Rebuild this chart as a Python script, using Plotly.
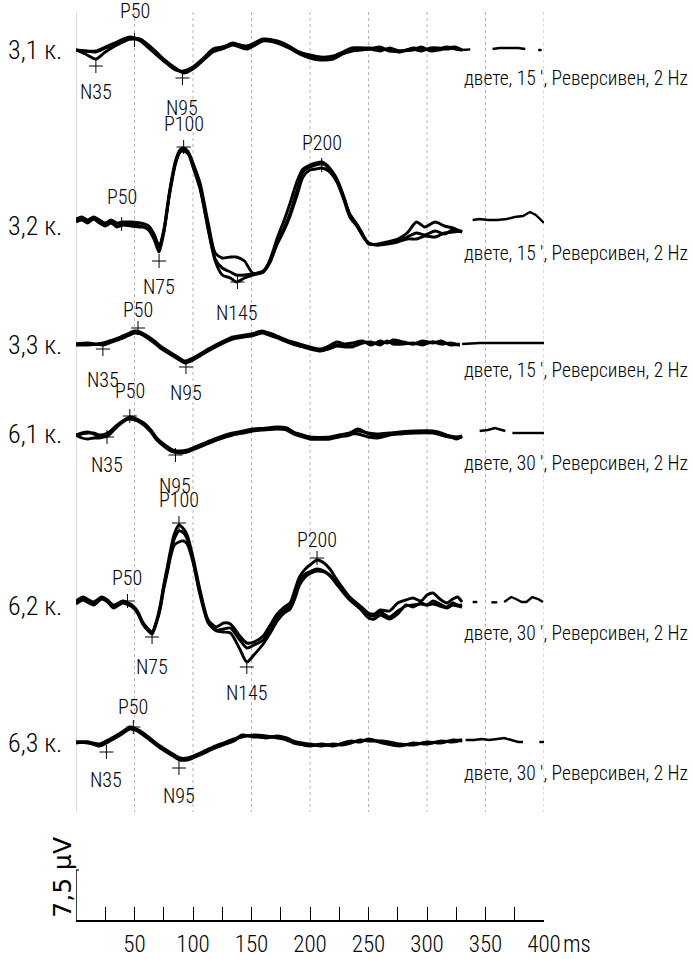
import plotly.graph_objects as go

# Screen scale: the 7,5 µV calibration bar is 50 px tall.
W, H = 693, 959
X0_PX, X400_PX = 76, 544          # pixel span of 0..400 ms
AXIS_PX = 920                     # pixel row of the time axis
Y_BOTTOM = -138.0                 # µV value at the time axis (top of page = 0)
PX_PER_UV = AXIS_PX / -Y_BOTTOM

FONT = "Roboto Condensed, sans-serif"
FONT_WEIGHT = 300

# ---------------- recording 3,1 ----------------
t31 = [0, 8, 17, 25, 35, 46, 55, 65, 75, 85, 92, 100, 110, 117, 125, 134, 146, 160, 172,
       182, 191, 200, 209, 220, 228, 236, 251, 260, 268, 277, 288, 295, 303, 310, 317, 324, 330]
v31 = [
    [0, -0.15, -0.3, 0.3, 1.05, 1.8, 1.5, 0, -1.5, -2.85, -3.3, -2.7, -1.2, 0, 0.3, 1.05, 0.45, 1.5, 1.2,
     0.45, -0.45, -0.9, -1.2, -1.05, -0.45, 0.15, 0.3, 0.15, 0, -0.3, 0.3, 0.15, 0, 0.15, 0.45, 0.15, 0],
    [0, -0.6, -1.35, -0.3, 0.75, 1.65, 1.65, 0.3, -1.35, -2.7, -3.45, -2.85, -1.35, -0.3, 0.15, 0.75, 0.15, 1.35, 1.05,
     0.3, -0.6, -1.2, -1.5, -1.35, -0.6, -0.15, 0.15, 0.45, -0.15, -0.15, 0.0, 0.45, -0.15, 0.0, 0.3, 0.45, 0],
    [0, -0.15, -0.15, 0.45, 1.2, 1.95, 1.35, -0.15, -1.65, -3.0, -3.15, -2.55, -1.05, 0.15, 0.45, 0.9, 0.6, 1.65, 1.35,
     0.6, -0.3, -0.75, -1.05, -0.9, -0.3, 0.3, 0.15, -0.15, 0.3, -0.15, 0.15, -0.15, 0.3, 0.3, 0.15, 0.3, 0],
]
tail31_t = [330, 337, None, 356, 362, 370, 378, 384, None, 395, 398]
tail31_v = [0, 0.1, None, 0.15, 0.3, 0.3, 0.3, 0.15, None, 0, 0]

# ---------------- recording 3,2 ----------------
t32 = [0, 5, 10, 15, 20, 25, 30, 35, 40, 47, 55, 62, 67, 71, 75, 80, 85, 89, 92, 96,
       100, 106, 113, 119, 125, 132, 137, 144, 151, 160, 166, 172, 178, 183, 189, 194, 200, 205, 210, 216,
       223, 229, 234, 240, 245, 250, 258, 266, 275, 283, 291, 298, 307, 315, 322, 330]
v32 = [
    [0.3, 0.75, 0.15, 0.75, 0.3, -0.3, 0.15, -0.45, -0.15, -0.15,
     -0.45, -1.05, -2.55, -4.35, -1.5, 4.5, 9.0, 10.8, 11.1, 10.5,
     8.7, 5.4, -1.05, -5.7, -7.8, -8.25, -8.85, -8.25, -7.8, -7.35,
     -5.85, -3.0, -0.75, 1.5, 4.95, 7.65, 8.4, 8.7, 9.0, 8.25,
     6.45, 3.75, 1.2, -0.3, -1.8, -3.0, -3.3, -3.15, -2.85, -2.4,
     -2.4, -1.95, -2.1, -1.5, -1.35, -1.2],
    [0.6, 0.9, 0.45, 0.9, 0.45, 0.0, 0.45, 0.0, 0.15, 0.15,
     0.0, -0.45, -1.8, -3.6, -1.05, 4.8, 9.3, 11.0, 11.25, 10.65,
     9.0, 6.0, 0.0, -4.5, -5.25, -5.1, -5.1, -5.7, -7.5, -7.35,
     -5.4, -2.25, 0.45, 3.0, 6.3, 8.1, 8.7, 9.0, 9.15, 8.4,
     6.6, 3.9, 1.35, -0.15, -1.65, -3.15, -3.15, -2.85, -2.4, -1.5,
     0.15, -0.6, 0.15, -0.45, -0.75, -1.35],
    [0.15, 0.45, 0.0, 0.6, 0.0, -0.45, 0.0, -0.6, -0.3, -0.45,
     -0.6, -0.6, -1.95, -3.45, -1.35, 4.35, 8.85, 10.65, 10.8, 10.35,
     8.4, 5.1, -0.75, -5.4, -6.75, -7.35, -7.8, -7.8, -7.65, -7.2,
     -5.7, -3.15, -1.05, 1.05, 4.2, 6.9, 7.95, 8.1, 8.25, 7.8,
     6.15, 3.45, 0.9, -0.45, -1.95, -3.0, -3.3, -3.0, -2.7, -2.1,
     -1.5, -1.8, -1.2, -1.65, -1.05, -1.35],
]
tail32_t = [339, 345, 352, 360, 368, 375, 382, 388, 393, 397, 400]
tail32_v = [0.45, 0.6, 0.45, 0.45, 0.6, 0.9, 1.05, 1.65, 1.2, 0.45, 0.0]

# ---------------- recording 3,3 ----------------
t33 = [0, 10, 23, 31, 38, 44, 50, 55, 61, 67, 72, 80, 87, 93, 100, 106, 113, 121, 128, 134,
       142, 150, 159, 165, 172, 178, 185, 193, 200, 209, 216, 223, 230, 236, 245, 252, 260, 266, 271, 280,
       288, 296, 305, 312, 320, 328]
v33 = [
    [0.15, 0.15, 0.15, 0.6, 1.05, 1.5, 1.95, 1.8, 1.2, 0.45, -0.3, -1.2, -1.95, -2.55, -2.1, -1.5, -0.75, 0, 0.6, 1.05,
     1.3, 1.5, 1.95, 1.65, 1.2, 0.75, 0.3, -0.1, -0.45, -0.75, -0.45, 0, 0, -0.15, 0.45, 0.3, 0.3, 0.45, 0.45, 0.3,
     0.15, 0.3, 0.45, 0.3, 0.15, 0],
    [0.0, 0.0, 0.3, 0.75, 1.2, 1.65, 2.1, 1.95, 1.35, 0.6, -0.15, -1.05, -1.8, -2.4, -1.95, -1.35, -0.6, 0.15, 0.75, 1.2,
     1.45, 1.65, 2.1, 1.8, 1.35, 0.9, 0.45, 0.05, -0.3, -0.6, -0.15, 0.45, 0.15, 0.3, 0.6, 0.0, 0.6, 0.3, 0.75, 0.45,
     0.15, 0.6, 0.3, 0.6, 0.0, 0.15],
    [0.15, 0.3, 0.0, 0.45, 0.9, 1.35, 1.8, 1.65, 1.05, 0.3, -0.45, -1.35, -2.1, -2.7, -2.25, -1.65, -0.9, -0.15, 0.45, 0.9,
     1.15, 1.35, 1.8, 1.5, 1.05, 0.6, 0.15, -0.25, -0.6, -0.9, -0.6, -0.15, -0.3, -0.3, 0.3, 0.45, 0.0, 0.6, 0.15, 0.15,
     0.3, 0.0, 0.45, 0.15, 0.3, 0.0],
]
tail33_t = [330, 345, 360, 375, 390, 400]
tail33_v = [0.15, 0.3, 0.3, 0.3, 0.3, 0.3]

# ---------------- recording 6,1 ----------------
t61 = [0, 5, 10, 15, 20, 27, 35, 40, 46, 52, 58, 64, 69, 76, 83, 89, 95, 103, 112, 122,
       134, 143, 151, 160, 172, 180, 186, 193, 200, 208, 217, 225, 234, 241, 250, 258, 268, 277, 290, 305,
       315, 325, 330]
v61 = [
    [0, 0.3, 0.45, 0.15, -0.3, -0.15, 1.2, 1.95, 2.55, 2.3, 1.8, 0.75, -0.45, -1.5, -2.25, -2.4, -2.25, -1.7, -1.05, -0.35,
     0.3, 0.6, 0.9, 1.0, 1.2, 1.05, 0.45, 0.05, -0.3, -0.35, -0.3, 0.0, 0.3, 0.9, 0.15, -0.15, 0.15, 0.3, 0.45, 0.45,
     0.0, -0.3, -0.15],
    [0, -0.45, -0.6, -0.45, -0.45, 0.15, 1.5, 2.1, 2.7, 2.4, 1.65, 0.6, -0.6, -1.65, -2.4, -2.55, -2.4, -1.85, -1.2, -0.5,
     0.15, 0.45, 0.75, 0.9, 1.05, 0.9, 0.3, -0.1, -0.45, -0.5, -0.45, -0.15, 0.15, 0.15, -0.3, -0.45, 0.0, 0.15, 0.3, 0.3,
     -0.15, -0.45, -0.3],
    [0, 0.15, 0.3, 0.3, 0.0, 0.3, 1.35, 2.1, 2.4, 2.15, 1.5, 0.45, -0.75, -1.8, -2.55, -2.7, -2.55, -2.0, -1.35, -0.65,
     0.0, 0.3, 0.6, 0.75, 0.9, 0.75, 0.15, -0.25, -0.6, -0.65, -0.6, -0.3, 0.0, 0.6, 0.3, 0.15, 0.3, 0.45, 0.6, 0.6,
     0.15, -0.6, -0.15],
]
tail61_t = [345, 352, 358, 364, 367, None, 373, 385, 395, 400]
tail61_v = [0.6, 0.75, 1.05, 0.75, 0.6, None, 0.3, 0.3, 0.3, 0.3]

# ---------------- recording 6,2 ----------------
t62 = [0, 6, 11, 15, 22, 27, 32, 40, 45, 49, 53, 57, 61, 65, 69, 72, 75, 78, 81, 84,
       88, 92, 95, 100, 106, 113, 120, 126, 132, 140, 146, 152, 160, 166, 172, 178, 183, 187, 191, 196,
       201, 206, 212, 217, 222, 228, 234, 243, 250, 255, 260, 268, 275, 282, 288, 295, 300, 305, 311, 317,
       322, 326, 330]
v62 = [
    [0, 0.6, 0.15, -0.15, 0.75, 0.3, -0.6, 0.15, -0.15, -0.6, -1.5, -3.0, -3.9, -4.5, -2.7, -0.6, 2.4, 4.95, 7.5, 9.6,
     10.8, 10.5, 9.6, 6.45, 1.5, -2.85, -4.05, -3.9, -3.75, -5.55, -6.75, -6.3, -5.55, -3.9, -2.1, -1.05, -0.45, 1.2, 3.3, 4.35,
     4.8, 5.1, 4.8, 4.2, 3.3, 1.95, 0.75, -0.6, -1.8, -1.95, -1.35, -2.1, -1.2, -0.45, -0.3, -0.15, -0.3, -0.15, -0.45, -0.75,
     -0.3, -0.45, -0.6],
    [0.3, 0.9, 0.45, 0.15, 0.9, 0.45, -0.3, 0.3, 0.0, -0.45, -1.35, -2.85, -3.75, -4.35, -2.55, -0.3, 2.7, 5.4, 8.1, 10.35,
     11.7, 11.1, 10.2, 6.9, 1.95, -2.55, -3.6, -3.0, -3.15, -4.95, -6.0, -5.85, -4.95, -3.3, -1.65, -0.6, 0.0, 1.95, 3.9, 5.1,
     5.85, 6.45, 6.0, 5.1, 3.75, 2.25, 0.9, -0.45, -1.5, -1.65, -1.05, -1.2, 0.0, 0.45, 0.75, 0.3, 1.2, 1.5, 0.6, 0.0,
     0.6, 0.9, 0.15],
    [-0.15, 0.45, 0.0, -0.3, 0.6, 0.15, -0.75, 0.0, -0.3, -0.75, -1.65, -3.15, -4.05, -4.65, -2.85, -0.9, 2.1, 4.5, 7.05, 8.7,
     9.15, 9.3, 8.85, 6.15, 1.2, -3.0, -4.2, -4.35, -4.5, -6.9, -8.85, -7.8, -6.15, -4.5, -2.7, -1.5, -0.9, 0.6, 2.7, 3.9,
     4.5, 4.8, 4.65, 4.05, 3.0, 1.65, 0.45, -0.9, -2.25, -2.4, -1.8, -2.4, -1.65, -0.3, -0.6, 0.0, -0.3, 0.3, -0.15, -0.6,
     0.0, -0.3, -0.3],
]
tail62_t = [339, 343, None, 355, 360, None, 366, 372, 376, 381, 385, 390, 395, 399]
tail62_v = [0.15, 0.15, None, 0.1, 0.1, None, 0.15, 0.9, 0.6, 0.15, 0.15, 0.9, 0.6, 0.15]

# ---------------- recording 6,3 ----------------
t63 = [0, 10, 20, 29, 38, 46, 50, 55, 63, 72, 80, 89, 95, 100, 108, 117, 126, 135, 142, 152,
       162, 172, 180, 186, 193, 200, 210, 220, 228, 235, 243, 250, 262, 277, 288, 300, 312, 322, 330]
v63 = [
    [0.15, 0, -0.3, 0.45, 1.35, 2.25, 2.1, 1.65, 0.6, -0.6, -1.5, -2.4, -2.4, -2.1, -1.5, -0.75, -0.15, 0.45, 1.2, 0.9,
     0.9, 0.9, 0.6, 0.15, -0.1, -0.3, -0.3, -0.3, -0.15, 0.15, 0.3, 0.45, 0.15, -0.3, -0.15, 0, 0.15, 0.3, 0.45],
    [0.0, 0.15, -0.15, 0.6, 1.5, 2.4, 2.25, 1.8, 0.75, -0.45, -1.35, -2.25, -2.25, -1.95, -1.35, -0.6, 0.0, 0.6, 0.9, 1.2,
     1.05, 0.75, 0.45, 0.0, -0.25, -0.45, -0.15, -0.45, 0.0, 0.3, 0.15, 0.6, 0.0, -0.45, 0.0, -0.15, 0.3, 0.15, 0.45],
    [0.15, 0.15, -0.45, 0.3, 1.2, 2.1, 1.95, 1.5, 0.45, -0.75, -1.65, -2.55, -2.55, -2.25, -1.65, -0.9, -0.3, 0.3, 1.05, 1.05,
     0.75, 1.05, 0.75, 0.3, 0.0, -0.15, -0.45, -0.15, -0.3, 0.0, 0.45, 0.3, 0.3, -0.15, -0.3, 0.15, 0.0, 0.45, 0.3],
]
tail63_t = [333, 340, 347, 353, 360, 366, 372, 378, 382, None, 396, 400]
tail63_v = [0.45, 0.45, 0.6, 0.45, 0.6, 0.75, 0.45, 0.15, 0.15, None, 0.15, 0.15]

# Peak marks: name, latency (ms), amplitude (µV)
peaks31 = [("N35", 17, -2.4), ("P50", 50, 1.5), ("N95", 91, -4.2)]
peaks32 = [("P50", 39, -0.15), ("N75", 71, -5.7), ("P100", 92, 11.4), ("N145", 138, -8.85), ("P200", 210, 8.7)]
peaks33 = [("N35", 23, -0.6), ("P50", 53, 2.55), ("N95", 94, -3.3)]
peaks61 = [("N35", 26.5, -0.3), ("P50", 46, 2.85), ("N95", 85, -3.0)]
peaks62 = [("P50", 44, 0.3), ("N75", 65, -5.1), ("P100", 88, 12.0), ("N145", 146, -9.6), ("P200", 206, 6.75)]
peaks63 = [("N35", 26, -1.35), ("P50", 49, 2.4), ("N95", 88, -3.75)]

row_names = ["3,1 к.", "3,2 к.", "3,3 к.", "6,1 к.", "6,2 к.", "6,3 к."]
row_notes = ["двете, 15 ', Реверсивен, 2 Hz"] * 3 + ["двете, 30 ', Реверсивен, 2 Hz"] * 3

time_ticks = [25, 50, 75, 100, 125, 150, 175, 200, 225, 250, 275, 300, 325, 350, 375, 400]
time_tick_text = ["" if v % 50 else str(v) for v in time_ticks]
grid_ms = [50, 100, 150, 200, 250, 300, 350, 400]
CAL_UV = 7.5

# Layout of the stacked rows (pixel rows of each baseline, label nudges in px)
row_base_px = [50, 223, 345, 435, 603, 743]
row_note_shift = [-28, -30, -25, -28, -30, -30]
row_name_shift = [0, -3, 0, 1, -3, 0]
peak_label_shift = [
    [-26, 29, -30],
    [27, -26, 23, -31, 22],
    [-31, 18, -26],
    [-28, 25, -31],
    [23, -30, 23, -26, 18],
    [-28, 20, -28],
]

rows = [
    (t31, v31, tail31_t, tail31_v, peaks31),
    (t32, v32, tail32_t, tail32_v, peaks32),
    (t33, v33, tail33_t, tail33_v, peaks33),
    (t61, v61, tail61_t, tail61_v, peaks61),
    (t62, v62, tail62_t, tail62_v, peaks62),
    (t63, v63, tail63_t, tail63_v, peaks63),
]


def font(size):
    return dict(family=FONT, size=size, color="black", weight=FONT_WEIGHT)


fig = go.Figure()
annotations = []
LINE = dict(color="black", width=2.9, shape="spline", smoothing=0.7)

for i, (t, sweeps, tt, tv, peaks) in enumerate(rows):
    off = -row_base_px[i] / PX_PER_UV
    for sw in sweeps:
        fig.add_trace(go.Scatter(x=t, y=[a + off for a in sw], mode="lines", line=LINE,
                                 hoverinfo="skip", showlegend=False))
    fig.add_trace(go.Scatter(x=tt, y=[None if a is None else a + off for a in tv], mode="lines",
                             line=dict(color="black", width=2.4), connectgaps=False,
                             hoverinfo="skip", showlegend=False))
    fig.add_trace(go.Scatter(x=[p[1] for p in peaks], y=[p[2] + off for p in peaks], mode="markers",
                             marker=dict(symbol="cross-thin", size=10, line=dict(color="black", width=1)),
                             hoverinfo="skip", showlegend=False, cliponaxis=False))
    for (name, lat, amp), sh in zip(peaks, peak_label_shift[i]):
        annotations.append(dict(x=lat, y=amp + off, xref="x", yref="y", text=name, showarrow=False,
                                yshift=sh, font=font(20)))
    annotations.append(dict(x=64 / W, y=off, xref="paper", yref="y", text=row_names[i], showarrow=False,
                            xanchor="right", yanchor="middle", yshift=row_name_shift[i],
                            font=font(26)))
    annotations.append(dict(x=330, y=off, xref="x", yref="y", text=row_notes[i], showarrow=False,
                            xanchor="left", yanchor="middle", yshift=row_note_shift[i],
                            font=font(19.5)))

# calibration label and time unit
annotations.append(dict(x=63 / W, y=Y_BOTTOM + CAL_UV / 2 + 2.6, xref="paper", yref="y", text="7,5 µV",
                        textangle=-90, showarrow=False, xanchor="center", yanchor="middle",
                        font=dict(family="DejaVu Sans", size=25, color="black")))
annotations.append(dict(x=400, y=Y_BOTTOM, xref="x", yref="y", text="ms", showarrow=False,
                        xanchor="left", yanchor="middle", xshift=17, yshift=-24,
                        font=font(23)))

shapes = []
top_uv = -12 / PX_PER_UV
grid_bottom_uv = -812 / PX_PER_UV
for g in grid_ms:
    shapes.append(dict(type="line", x0=g, x1=g, y0=top_uv, y1=grid_bottom_uv, xref="x", yref="y",
                       line=dict(color="#b4b4b4", width=1, dash="dot"), layer="below"))
shapes.append(dict(type="line", x0=0, x1=0, y0=top_uv, y1=grid_bottom_uv, xref="x", yref="y",
                   line=dict(color="#cfcfcf", width=1.5), layer="below"))
# 7,5 µV calibration bar
shapes.append(dict(type="line", x0=0, x1=0, y0=Y_BOTTOM, y1=Y_BOTTOM + CAL_UV, xref="x", yref="y",
                   line=dict(color="black", width=1.5)))
shapes.append(dict(type="line", x0=0, x1=2.5, y0=Y_BOTTOM + CAL_UV, y1=Y_BOTTOM + CAL_UV, xref="x", yref="y",
                   line=dict(color="black", width=1.2)))

fig.update_layout(
    width=W, height=H,
    margin=dict(l=0, r=0, t=0, b=0, pad=0, autoexpand=False),
    paper_bgcolor="white", plot_bgcolor="white",
    showlegend=False,
    xaxis=dict(domain=[X0_PX / W, X400_PX / W], range=[0, 400], showgrid=False, zeroline=False,
               automargin=False,
               showline=True, linecolor="black", linewidth=1.5,
               ticks="inside", ticklen=13, tickwidth=1, tickcolor="black",
               tickvals=time_ticks, ticktext=time_tick_text, ticklabelstandoff=3,
               tickfont=font(23)),
    yaxis=dict(domain=[(H - AXIS_PX) / H, 1], range=[Y_BOTTOM, 0], visible=False, automargin=False),
    annotations=annotations,
    shapes=shapes,
)

fig.write_html("out.html")
